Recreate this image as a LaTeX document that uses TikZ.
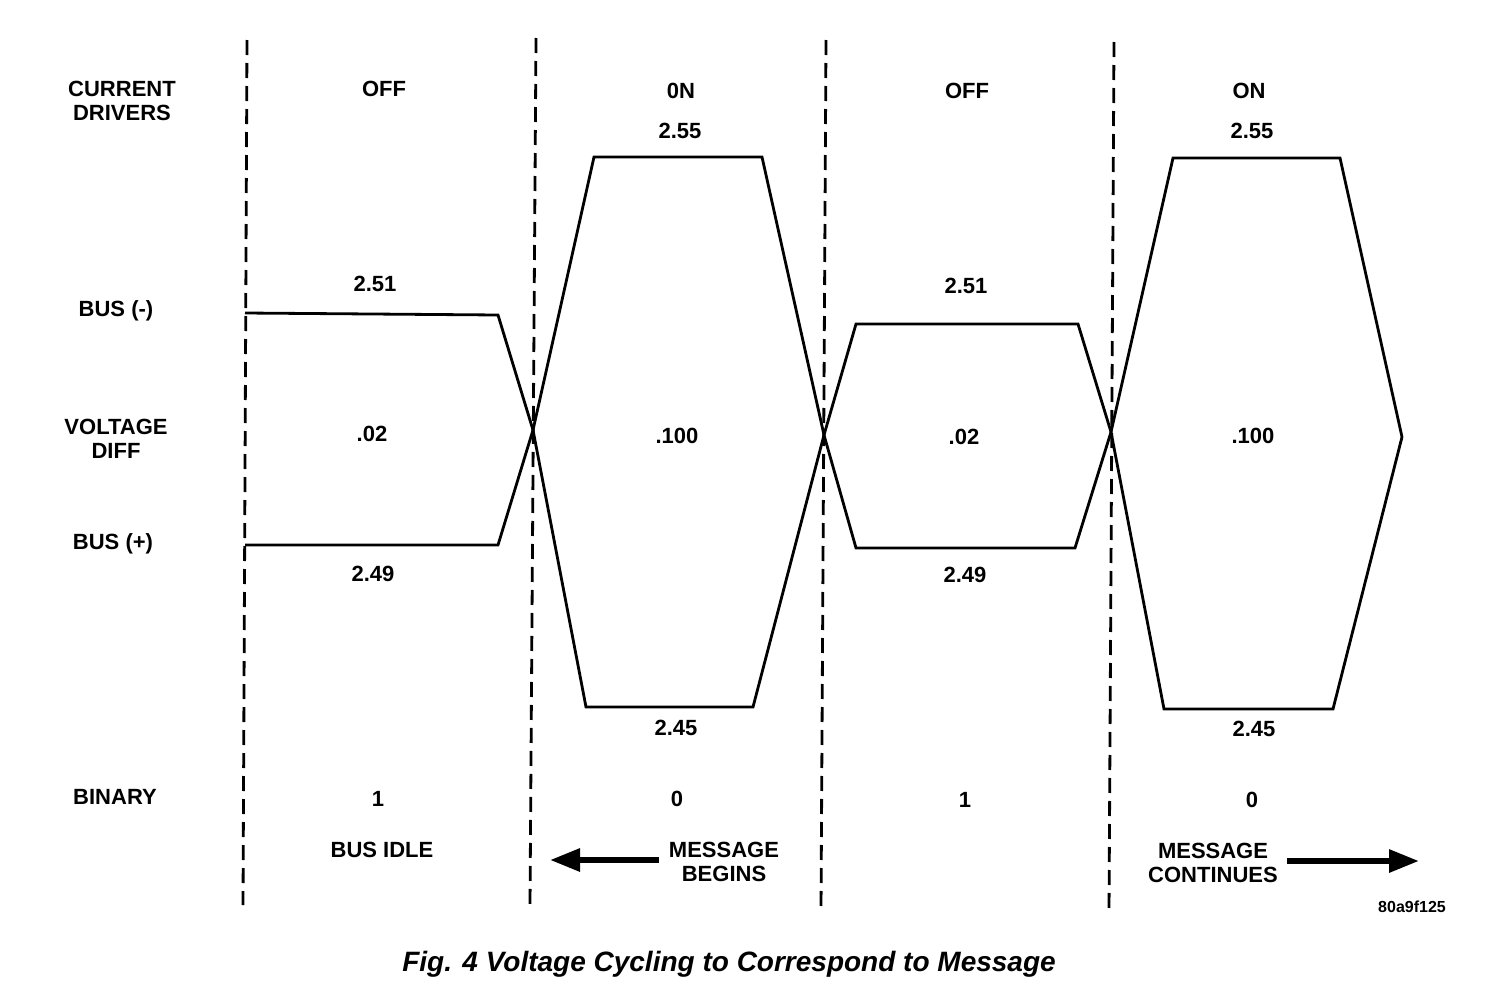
\documentclass[tikz,border=0pt]{standalone}
\usepackage{fontspec}
\setmainfont{Liberation Sans}
\usetikzlibrary{arrows.meta}
\begin{document}
\begin{tikzpicture}[x=1pt,y=-1pt,
  lbl/.style={font=\fontsize{22}{24.5}\selectfont\bfseries, inner sep=0pt, align=center},
  captxt/.style={font=\fontsize{28}{32}\selectfont\bfseries\itshape, inner sep=0pt},
  code/.style={font=\fontsize{16}{18}\selectfont\bfseries, inner sep=0pt},
  divider/.style={line width=2.8pt, dash pattern=on 15pt off 8pt},
  trace/.style={line width=2.8pt, line join=miter},
  bigarrow/.style={line width=6pt, -{Triangle[length=30pt,width=22pt]}}]
\useasboundingbox (0,0) rectangle (1504,996);
% dividers
\coordinate (d1t) at (247,40);  \coordinate (d1b) at (243,905);
\coordinate (d2t) at (536,38);  \coordinate (d2b) at (530,905);
\coordinate (d3t) at (826,40);  \coordinate (d3b) at (821,910);
\coordinate (d4t) at (1114,42); \coordinate (d4b) at (1109,912);
\draw[divider] (d1t) -- (d1b);
\draw[divider] (d2t) -- (d2b);
\draw[divider] (d3t) -- (d3b);
\draw[divider] (d4t) -- (d4b);
% crossings
\coordinate (x1) at (533,430);
\coordinate (x2) at (824,435);
\coordinate (x3) at (1111,432);
\coordinate (tip) at (1402,437);
% traces
\draw[trace] (245,313) -- (498,315) -- (x1) -- (586,707) -- (753,707) -- (x2)
  -- (856,548) -- (1075,548) -- (x3) -- (1164,709) -- (1333,709) -- (tip);
\draw[trace] (245,545) -- (498,545) -- (x1) -- (594,157) -- (762,157) -- (x2)
  -- (856,324) -- (1078,324) -- (x3) -- (1173,158) -- (1340,158) -- (tip);
% left labels
\node[lbl] (cd) at (122,101) {CURRENT\\DRIVERS};
\node[lbl] (busm) at (116,311) {BUS (-)};
\node[lbl] (vd) at (116,439) {VOLTAGE\\DIFF};
\node[lbl] (busp) at (113,544) {BUS (+)};
\node[lbl] (bin) at (115,797) {BINARY};
% driver states
\node[lbl] (s1) at (384,89) {OFF};
\node[lbl] (s2) at (681,91) {0N};
\node[lbl] (s3) at (967,91) {OFF};
\node[lbl] (s4) at (1249,91) {ON};
% voltages
\node[lbl] (v255a) at (680,131) {2.55};
\node[lbl] (v255b) at (1252,131) {2.55};
\node[lbl] (v251a) at (375,284) {2.51};
\node[lbl] (v251b) at (966,286) {2.51};
\node[lbl] (d02a) at (372,434) {.02};
\node[lbl] (d100a) at (677,436) {.100};
\node[lbl] (d02b) at (964,437) {.02};
\node[lbl] (d100b) at (1253,436) {.100};
\node[lbl] (v249a) at (373,574) {2.49};
\node[lbl] (v249b) at (965,575) {2.49};
\node[lbl] (v245a) at (676,728) {2.45};
\node[lbl] (v245b) at (1254,729) {2.45};
% binary
\node[lbl] (b1) at (378,799) {1};
\node[lbl] (b2) at (677,799) {0};
\node[lbl] (b3) at (965,800) {1};
\node[lbl] (b4) at (1252,800) {0};
% bottom notes
\node[lbl] (idle) at (382,850) {BUS IDLE};
\node[lbl] (mb) at (724,862) {MESSAGE\\BEGINS};
\node[lbl] (mc) at (1213,863) {MESSAGE\\CONTINUES};
\coordinate (mbend) at (550,860);
\coordinate (mcend) at (1419,861);
\draw[bigarrow] (mb.west |- mbend) ++(-10,0) -- (mbend);
\draw[bigarrow] (mc.east |- mcend) ++(9,0) -- (mcend);
\node[code] (id) at (1412,907) {80a9f125};
\node[captxt] (caption) at (729,964) {Fig. 4 Voltage Cycling to Correspond to Message};
\end{tikzpicture}
\end{document}
